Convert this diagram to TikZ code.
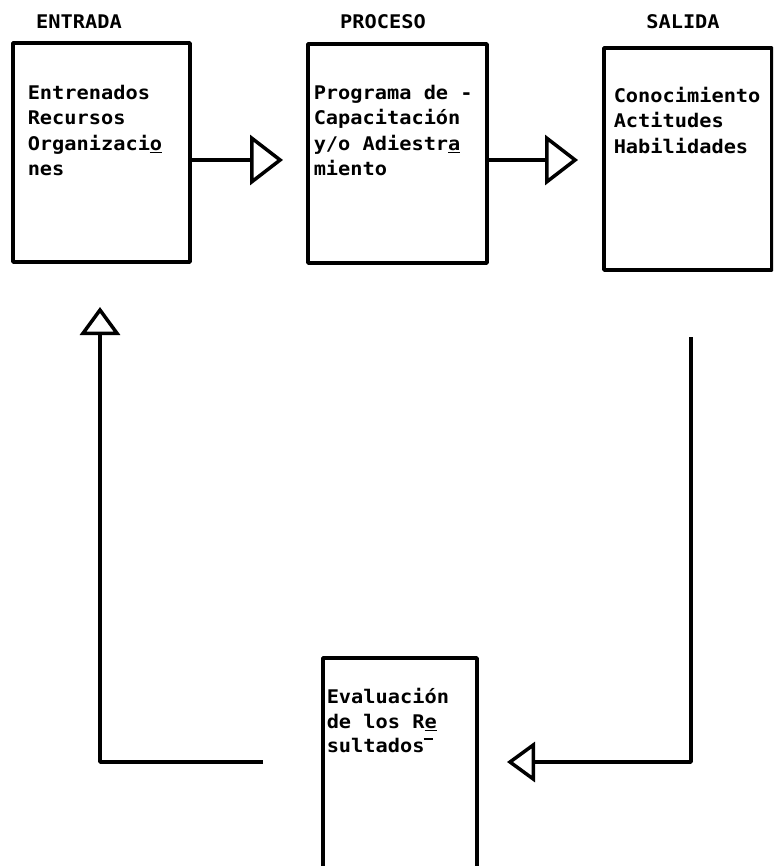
\documentclass[tikz,border=0pt]{standalone}
\usepackage{fontspec}
\newfontfamily\tw[FakeStretch=1.08]{DejaVu Sans Mono}
\usetikzlibrary{arrows.meta}
\tikzset{
  box/.style={draw, rectangle, inner sep=0pt, fill=none},
  txt/.style={font=\tw\bfseries\fontsize{18.8}{25.3}\selectfont, align=left, inner sep=0pt, anchor=north west},
  title/.style={font=\tw\bfseries\fontsize{18.8}{22}\selectfont, inner sep=0pt},
  tipbig/.style={-{Triangle[open, length=33pt, width=50pt]}},
  tipsmall/.style={-{Triangle[open, length=28pt, width=40pt]}},
}
\begin{document}
\begin{tikzpicture}[x=1pt, y=-1pt, line width=3.5pt, line join=round]
\clip (0,0) rectangle (773,866);
% titles
\node[title] (tent) at (79,22) {ENTRADA};
\node[title] (tpro) at (383,22) {PROCESO};
\node[title] (tsal) at (683,22) {SALIDA};
% boxes
\node[box, minimum width=177pt, minimum height=219pt] (entrada) at (101.5,152.5) {};
\node[box, minimum width=179pt, minimum height=219pt] (proceso) at (397.5,153.5) {};
\node[box, minimum width=168pt, minimum height=222pt] (salida) at (688,159) {};
\node[box, minimum width=154pt, minimum height=242pt] (evaluacion) at (400,779) {};
% texts
\node[txt] (entradatxt) at (26,83.5) {Entrenados\\Recursos\\Organizaci\underline{o}\\nes};
\node[txt] (procesotxt) at (312,83.5) {Programa de -\\Capacitación\\y/o Adiestr\underline{a}\\miento};
\node[txt] (salidatxt) at (612,85.5) {Conocimiento\\Actitudes\\Habilidades};
\node[txt, font=\tw\bfseries\fontsize{18.8}{24.5}\selectfont] (evaltxt) at (325,686.5) {Evaluación\\de los R\underline{e}\\sultados\kern-1pt\rule[0.68em]{0.5em}{1.5pt}};
% connectors
\coordinate (t1) at (283,160);
\coordinate (t2) at (578,160);
\draw[tipbig] (entrada.east |- t1) -- (t1);
\draw[tipbig] (proceso.east |- t2) -- (t2);
\coordinate (fb0) at (691,337);
\coordinate (fbc) at (691,762);
\coordinate (t3) at (507,762);
\draw[tipsmall] (fb0) -- (fbc) -- (t3);
\coordinate (fl0) at (263,762);
\coordinate (flc) at (100,762);
\coordinate (t4) at (100,307);
\draw[tipsmall] (fl0) -- (flc) -- (t4);
\end{tikzpicture}
\end{document}
